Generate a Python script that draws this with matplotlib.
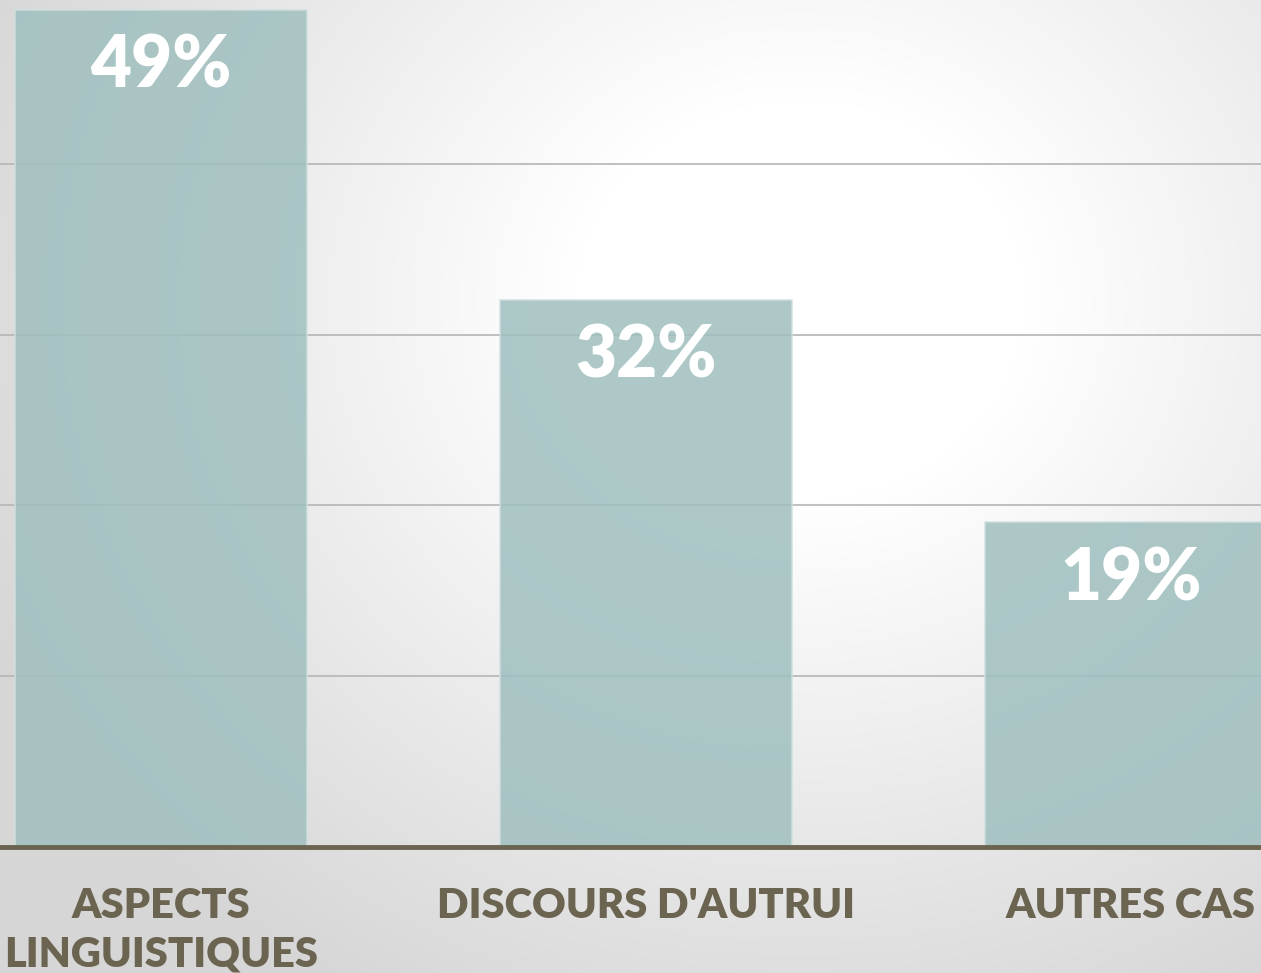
import matplotlib.pyplot as plt
import numpy as np

categories = ["ASPECTS\nLINGUISTIQUES", "DISCOURS D'AUTRUI", "AUTRES CAS"]
values = [49, 32, 19]
value_labels = ["49%", "32%", "19%"]

W, H = 1261, 973
fig = plt.figure(figsize=(W / 100, H / 100), dpi=100)

# radial grey-to-white background
bg = fig.add_axes([0, 0, 1, 1])
yy, xx = np.mgrid[0:H, 0:W]
r = np.sqrt(((xx - 800) / 900.0) ** 2 + ((yy - 300) / 800.0) ** 2)
shade = 1.0 - 0.16 * np.clip((r - 0.25) / 0.75, 0, 1)
bg.imshow(np.dstack([shade] * 3), aspect='auto', extent=[0, 1, 0, 1])
bg.axis('off')

base_px = 847
ax = fig.add_axes([0, 1 - base_px / H, 1, base_px / H])
ax.patch.set_alpha(0)

x = np.arange(len(categories))
ax.bar(x, values, width=0.602, color='#9fbfbe', alpha=0.85,
       edgecolor='#cfe0df', linewidth=1.2, zorder=3)

px_per_unit = (base_px - 10) / 49.0
ax.set_ylim(0, base_px / px_per_unit)
ax.set_xlim(-161 / 485, (W - 161) / 485)

ax.set_yticks([10, 20, 30, 40])
ax.yaxis.grid(True, color='#b5b5b5', linewidth=1.2, zorder=1)
ax.set_axisbelow(True)
ax.tick_params(axis='y', left=False, labelleft=False)

for s in ['top', 'right', 'left']:
    ax.spines[s].set_visible(False)
ax.spines['bottom'].set_color('#6b6450')
ax.spines['bottom'].set_linewidth(3.5)
ax.spines['bottom'].set_zorder(5)

ax.set_xticks(x)
ax.set_xticklabels(categories, fontsize=30, fontweight='heavy', color='#6b6450',
                   family='Lato', linespacing=1.35)
ax.tick_params(axis='x', bottom=False, pad=25)

for xi, v, lab in zip(x, values, value_labels):
    ax.annotate(lab, (xi, v), xytext=(0, -17), textcoords='offset points',
                ha='center', va='top', fontsize=51, fontweight='heavy',
                color='white', family='Lato', zorder=4)

plt.savefig("out.png", dpi=100)
